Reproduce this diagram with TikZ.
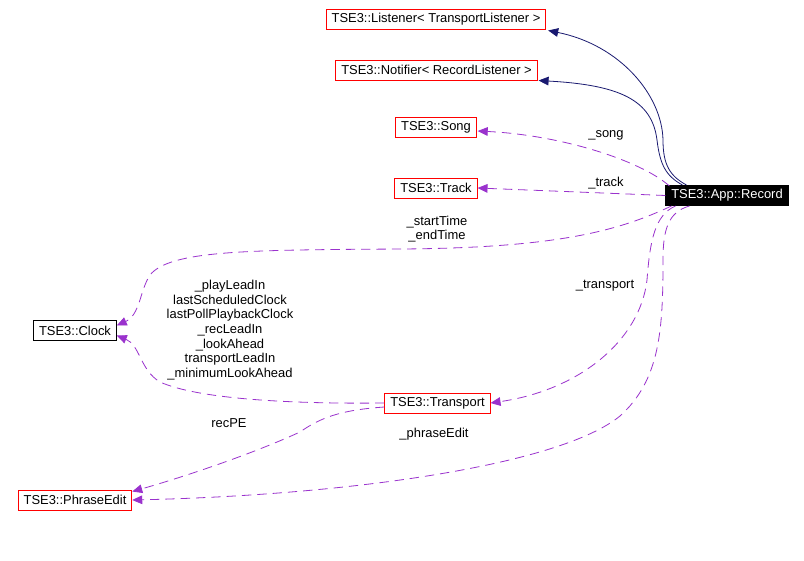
\documentclass[tikz,border=0pt]{standalone}
\usepackage{fontspec}
\setmainfont{Liberation Sans}
\usetikzlibrary{arrows.meta,calc}
\usepackage{xcolor}
\definecolor{EdgePurple}{HTML}{9A32CD}
\definecolor{EdgeNavy}{HTML}{191970}
\definecolor{BoxRed}{HTML}{FF0000}

\begin{document}
\begin{tikzpicture}[x=0.75pt,y=-0.75pt,
    cls/.style={draw=BoxRed,line width=0.75pt,fill=white,inner xsep=4pt,inner ysep=0pt,
      minimum height=15pt,font=\fontsize{9.7}{11}\selectfont},
    clsplain/.style={cls,draw=black},
    focus/.style={cls,draw=black,fill=black,text=white},
    lbl/.style={align=center,font=\fontsize{9.7}{11}\selectfont},
    inherit/.style={draw=EdgeNavy,line width=0.6pt,-{Triangle[length=7.5pt,width=6.5pt]}},
    usage/.style={draw=EdgePurple,line width=0.6pt,dash pattern=on 7pt off 4.5pt,
      -{Triangle[length=7.5pt,width=6.5pt]}}]
    \fill[white] (0,0) rectangle (804,561);
    \useasboundingbox (0,0) rectangle (804,561);
    % Classes
    \node[cls]      (listener) at (436,19)    {TSE3::Listener< TransportListener >};
    \node[cls]      (notifier) at (436.5,70)  {TSE3::Notifier< RecordListener >};
    \node[cls]      (song)     at (436,127)   {TSE3::Song};
    \node[cls]      (track)    at (436,188)   {TSE3::Track};
    \node[focus]    (rec)      at (727,195.5) {TSE3::App::Record};
    \node[clsplain] (clock)    at (75,330.5)  {TSE3::Clock};
    \node[cls]      (transport) at (437.5,403) {TSE3::Transport};
    \node[cls]      (phrase)   at (75,500)    {TSE3::PhraseEdit};
    % Base classes
    \draw[inherit] ($(rec.north west)+(21,0)$) .. controls (670,176) and (663,165) .. (663,140)
      .. controls (662,95) and (620,45) .. ($(listener.south east)+(2,1)$);
    \draw[inherit] ($(rec.north west)+(17,0)$) .. controls (666,176) and (660,165) .. (657,140)
      .. controls (652,100) and (620,85) .. ($(notifier.south east)+(1,0)$);
    % Members
    \draw[usage] ($(rec.north west)+(4,1)$) .. controls (640,160) and (560,135) .. ($(song.east)+(1,4)$);
    \draw[usage] (rec.west) -- (track.east);
    \draw[usage] ($(rec.south west)+(6,0)$) .. controls (620,230) and (560,248) .. (400,249)
      .. controls (250,250) and (170,250) .. (150,275)
      .. controls (140,290) and (140,315) .. ($(clock.east)+(0,-5)$);
    \draw[usage] (transport.west) .. controls (300,404) and (200,400) .. (160,382)
      .. controls (140,370) and (140,345) .. ($(clock.east)+(0,5)$);
    \draw[usage] ($(rec.south west)+(10,0)$) .. controls (655,215) and (650,240) .. (647,280)
      .. controls (640,340) and (580,390) .. (transport.east);
    \draw[usage] ($(rec.south west)+(24,0)$) .. controls (668,212) and (663,230) .. (663,260)
      .. controls (663,330) and (660,380) .. (620,416)
      .. controls (560,465) and (350,495) .. (phrase.east);
    \draw[usage] ($(transport.west)+(0,4)$) .. controls (340,410) and (320,418) .. (300,432)
      .. controls (250,455) and (180,478) .. ($(phrase.north east)+(0,2)$);
    % Member names
    \node[lbl] (lsong)  at (606,135) {\_song};
    \node[lbl] (ltrack) at (606,183) {\_track};
    \node[lbl] (ltime)  at (437,229) {\_startTime\\\_endTime};
    \node[lbl] (ltrans) at (605,286) {\_transport};
    \node[lbl] (lclock) at (230,330) {\_playLeadIn\\lastScheduledClock\\lastPollPlaybackClock\\\_recLeadIn\\\_lookAhead\\transportLeadIn\\\_minimumLookAhead};
    \node[lbl] (lrecpe) at (229,423) {recPE};
    \node[lbl] (lphrase) at (434,434) {\_phraseEdit};
\end{tikzpicture}
\end{document}
